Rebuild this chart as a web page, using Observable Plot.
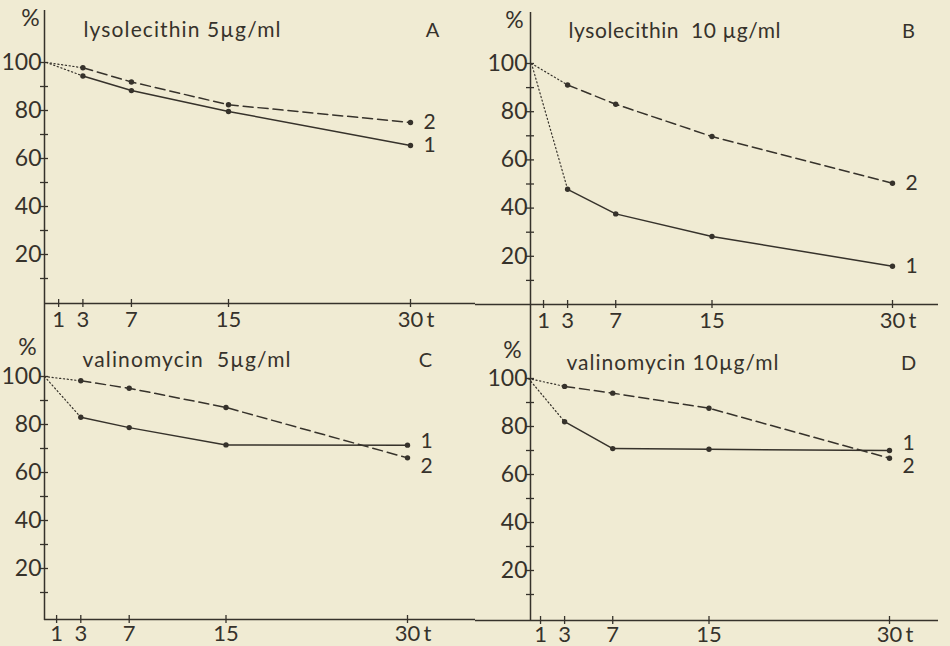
<!DOCTYPE html>
<html><head><meta charset="utf-8">
<script src="https://cdn.jsdelivr.net/npm/d3@7"></script>
<script src="https://cdn.jsdelivr.net/npm/@observablehq/plot@0.6"></script>
<style>
html,body{margin:0;padding:0;background:#f0ebd3;}
#fig{position:relative;width:950px;height:646px;overflow:hidden;background:#f0ebd3;}
#fig > svg{position:absolute;}
</style></head><body><div id="fig"></div>
<script>
// ---- data ----
const times = [3, 7, 15, 30];
const xTicks = [1, 3, 7, 15, 30];
const yTicks = [10, 20, 30, 40, 50, 60, 70, 80, 90, 100];
const yTickLabels = [20, 40, 60, 80, 100];
const startTime = 0;
const startValue = 100;
const panelIds = ["A", "B", "C", "D"];
const panelTitles = ["lysolecithin 5µg/ml", "lysolecithin  10 µg/ml", "valinomycin  5µg/ml", "valinomycin 10µg/ml"];
const seriesNames = ["1", "2"];
const a1 = [94.4, 88.3, 79.6, 65.4];
const a2 = [97.8, 91.9, 82.4, 75.0];
const b1 = [47.8, 37.6, 28.2, 15.9];
const b2 = [91.1, 83.1, 69.7, 50.3];
const c1 = [83.0, 78.7, 71.5, 71.4];
const c2 = [98.2, 95.1, 87.1, 66.1];
const d1 = [82.0, 70.8, 70.5, 70.0];
const d2 = [96.7, 93.9, 87.6, 66.8];

// ---- layout (pixels, per panel) ----
const ink = "#36322b";
const layout = {
  A: {left: 0, top: 0, w: 475, h: 340, xr: [46, 410], yr: [302, 62], ax: 44, ay: 303, ayTop: 10, ayBot: 330, axL: 44, axR: 475,
      pct: [30, 18], title: [83, 30], letter: [432, 30], dy1: 0, dy2: 0, tw: 197},
  B: {left: 475, top: 0, w: 475, h: 340, xr: [56, 417], yr: [304, 63], ax: 55, ay: 304, ayTop: 12, ayBot: 330, axL: 0, axR: 463,
      pct: [39, 20], title: [93, 31], letter: [433, 31], dy1: 0, dy2: 0, tw: 212},
  C: {left: 0, top: 316, w: 475, h: 330, xr: [44, 407], yr: [300, 60], ax: 44, ay: 303, ayTop: 14, ayBot: 304, axL: 44, axR: 475,
      pct: [27, 31], title: [82, 44], letter: [425, 44], dy1: -4, dy2: 8, tw: 208},
  D: {left: 475, top: 316, w: 475, h: 330, xr: [53, 414], yr: [302, 62], ax: 55, ay: 304, ayTop: 14, ayBot: 305, axL: 0, axR: 463,
      pct: [37, 34], title: [91, 47], letter: [433, 47], dy1: -7, dy2: 8, tw: 212}
};
const seriesByPanel = {A: [a1, a2], B: [b1, b2], C: [c1, c2], D: [d1, d2]};

function panel(i) {
  const id = panelIds[i];
  const L = layout[id];
  const [s1, s2] = seriesByPanel[id];
  const xInv = d3.scaleLinear().domain(L.xr).range([0, 30]);
  const yInv = d3.scaleLinear().domain(L.yr).range([0, 100]);
  const l1 = times.map((t, k) => ({t, v: s1[k]}));
  const l2 = times.map((t, k) => ({t, v: s2[k]}));
  const dot1 = [{t: startTime, v: startValue}, l1[0]];
  const dot2 = [{t: startTime, v: startValue}, l2[0]];
  const last1 = l1[l1.length - 1], last2 = l2[l2.length - 1];
  const labY = yInv(L.ay + (L.top > 0 ? 14 : 16));
  const svg = Plot.plot({
    width: L.w, height: L.h,
    x: {domain: [0, 30], range: L.xr, axis: null},
    y: {domain: [0, 100], range: L.yr, axis: null},
    style: {background: "transparent", color: ink, fontFamily: "Lato, 'Noto Sans', sans-serif", overflow: "visible"},
    marks: [
      Plot.ruleX([xInv(L.ax)], {y1: yInv(L.ayTop), y2: yInv(L.ayBot), stroke: ink, strokeWidth: 1.5}),
      Plot.ruleY([yInv(L.ay)], {x1: xInv(L.axL), x2: xInv(L.axR), stroke: ink, strokeWidth: 1.5}),
      Plot.ruleY(yTicks, {y: d => d, x1: xInv(L.ax - 4), x2: xInv(L.ax + 4), stroke: ink, strokeWidth: 1.3}),
      Plot.ruleX(xTicks, {x: d => d, y1: yInv(L.ay - 4), y2: yInv(L.ay + 4), stroke: ink, strokeWidth: 1.3}),
      Plot.text(yTickLabels, {y: d => d, x: xInv(L.ax - 3), text: d => String(d), textAnchor: "end", fontSize: 23, fill: ink}),
      Plot.text(xTicks, {x: d => d, y: labY, text: d => String(d), fontSize: 22, fill: ink}),
      Plot.text(["t"], {x: 30, y: labY, dx: 20, text: d => d, fontSize: 22, fill: ink}),
      Plot.text(["%"], {x: xInv(L.pct[0]), y: yInv(L.pct[1]), text: d => d, fontSize: 23, fill: ink}),
      Plot.text([panelTitles[i]], {x: xInv(L.title[0]), y: yInv(L.title[1]), text: d => d, textAnchor: "start", fontSize: 21, fill: ink}),
      Plot.text([id], {x: xInv(L.letter[0]), y: yInv(L.letter[1]), text: d => d, fontSize: 20, fill: ink}),
      Plot.line(dot1, {x: "t", y: "v", stroke: ink, strokeWidth: 1.2, strokeDasharray: "1.2,2.6"}),
      Plot.line(dot2, {x: "t", y: "v", stroke: ink, strokeWidth: 1.2, strokeDasharray: "1.2,2.6"}),
      Plot.line(l1, {x: "t", y: "v", stroke: ink, strokeWidth: 1.5}),
      Plot.line(l2, {x: "t", y: "v", stroke: ink, strokeWidth: 1.5, strokeDasharray: "10,5"}),
      Plot.dot(l1.concat(l2), {x: "t", y: "v", r: 2.7, fill: ink, stroke: "none"}),
      Plot.text([last1], {x: "t", y: "v", text: () => seriesNames[0], dx: 13, dy: L.dy1, textAnchor: "start", fontSize: 21, fill: ink}),
      Plot.text([last2], {x: "t", y: "v", text: () => seriesNames[1], dx: 13, dy: L.dy2, textAnchor: "start", fontSize: 21, fill: ink})
    ]
  });
  // stretch the title to the width it has in the reference
  d3.select(svg).selectAll("text").filter(function() { return this.textContent === panelTitles[i]; })
    .attr("textLength", L.tw).attr("lengthAdjust", "spacing");
  return svg;
}

const fig = document.getElementById("fig");
panelIds.forEach((id, i) => {
  const svg = panel(i);
  svg.style.left = layout[id].left + "px";
  svg.style.top = layout[id].top + "px";
  fig.appendChild(svg);
});
</script></body></html>
